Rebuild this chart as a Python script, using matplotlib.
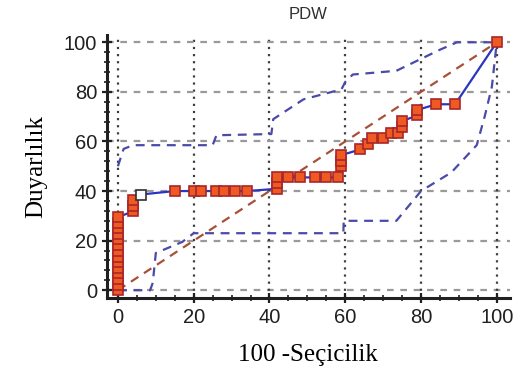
import numpy as np
import matplotlib.pyplot as plt
from matplotlib.ticker import MultipleLocator

# ROC egrisi (100 - Secicilik, Duyarlilik)
roc_x = [0, 0, 0, 0, 0, 0, 0, 0, 0, 0, 0, 0, 0, 0,
         4, 4, 4, 6,
         15, 20, 22, 26, 28, 31, 34,
         42, 42, 42, 45, 48, 52, 55, 58,
         59, 59, 59, 64, 66, 67, 70, 72, 74, 75, 75, 79, 79,
         84, 89, 100]
roc_y = [0, 2.3, 4.5, 6.8, 9.1, 11.4, 13.6, 15.9, 18.2, 20.5, 22.7, 25.0, 27.3, 29.5,
         31.8, 34.1, 36.4, 38.6,
         40.0, 40.0, 40.0, 40.0, 40.0, 40.0, 40.0,
         40.9, 43.2, 45.5, 45.5, 45.5, 45.5, 45.5, 45.5,
         50.0, 52.3, 54.5, 56.8, 59.1, 61.4, 61.4, 63.6, 63.6, 65.9, 68.2, 70.5, 72.7,
         75.0, 75.0, 100]
open_idx = 17  # acik (beyaz) isaretli nokta

# %95 guven araligi sinirlari
upper_x = [0, 1.5, 4, 25, 26, 40.5, 41, 49, 59, 60, 62, 73.5, 85, 89.5, 100]
upper_y = [50, 57, 58.5, 58.5, 62.5, 63, 69, 77, 81, 84, 87, 88.5, 97, 100, 100]
lower_x = [0, 5, 8.5, 9.2, 10, 17, 20, 59.5, 59.6, 73.5, 80, 88, 94.7, 96.8, 98.7, 100]
lower_y = [0, 0, 0, 3, 15, 19.5, 23, 23, 28, 28, 40, 47.5, 58.5, 70, 82, 100]

diag = [0, 100]

fig = plt.figure(figsize=(5.32, 3.76), dpi=100)
ax = fig.add_axes([0.201, 0.207, 0.757, 0.699])

# izgara: yatay kesikli gri, dikey noktali koyu
for v in [0, 20, 40, 60, 80, 100]:
    ax.axhline(v, color="#9a9a9a", lw=1.6, ls=(0, (3, 3)), zorder=1)
    ax.axvline(v, color="#404040", lw=1.6, ls=(0, (1, 2.2)), zorder=1)

ax.plot(diag, diag, color="#a85038", lw=1.6, ls=(0, (4, 3)), zorder=2)
ax.plot(upper_x, upper_y, color="#4a4aa8", lw=1.6, ls=(0, (4, 3)), zorder=2)
ax.plot(lower_x, lower_y, color="#4a4aa8", lw=1.6, ls=(0, (4, 3)), zorder=2)

ax.plot(roc_x, roc_y, color="#2a35c0", lw=1.6, zorder=3)
mx = [x for i, x in enumerate(roc_x) if i != open_idx]
my = [y for i, y in enumerate(roc_y) if i != open_idx]
ax.plot(mx, my, ls="none", marker="s", ms=6.5, mfc="#ee5a22",
        mec="#a8262a", mew=1.2, zorder=4)
ax.plot(roc_x[open_idx], roc_y[open_idx], ls="none", marker="s", ms=6.5,
        mfc="white", mec="#303030", mew=1.2, zorder=4)

ax.set_xlim(-2.9, 103.4)
ax.set_ylim(-3.2, 102.8)
ax.xaxis.set_major_locator(MultipleLocator(20))
ax.yaxis.set_major_locator(MultipleLocator(20))
ax.xaxis.set_minor_locator(MultipleLocator(5))
ax.yaxis.set_minor_locator(MultipleLocator(4))

for s in ["top", "right"]:
    ax.spines[s].set_visible(False)
for s in ["left", "bottom"]:
    ax.spines[s].set_linewidth(2.2)
    ax.spines[s].set_color("#202020")

ax.tick_params(which="major", direction="inout", length=7, width=1.6,
               labelsize=14.5, colors="#202020")
ax.tick_params(which="minor", direction="inout", length=5, width=1.2,
               colors="#202020")
for lab in ax.get_xticklabels() + ax.get_yticklabels():
    lab.set_family("Liberation Sans")

ax.set_title("PDW", fontsize=12, family="Liberation Sans", color="#303030",
             pad=12)
ax.set_xlabel("100 -Seçicilik", fontsize=18, family="Liberation Serif",
              labelpad=12)
ax.set_ylabel("Duyarlılık", fontsize=18, family="Liberation Serif",
              labelpad=12)

fig.savefig("out.png", dpi=100)
